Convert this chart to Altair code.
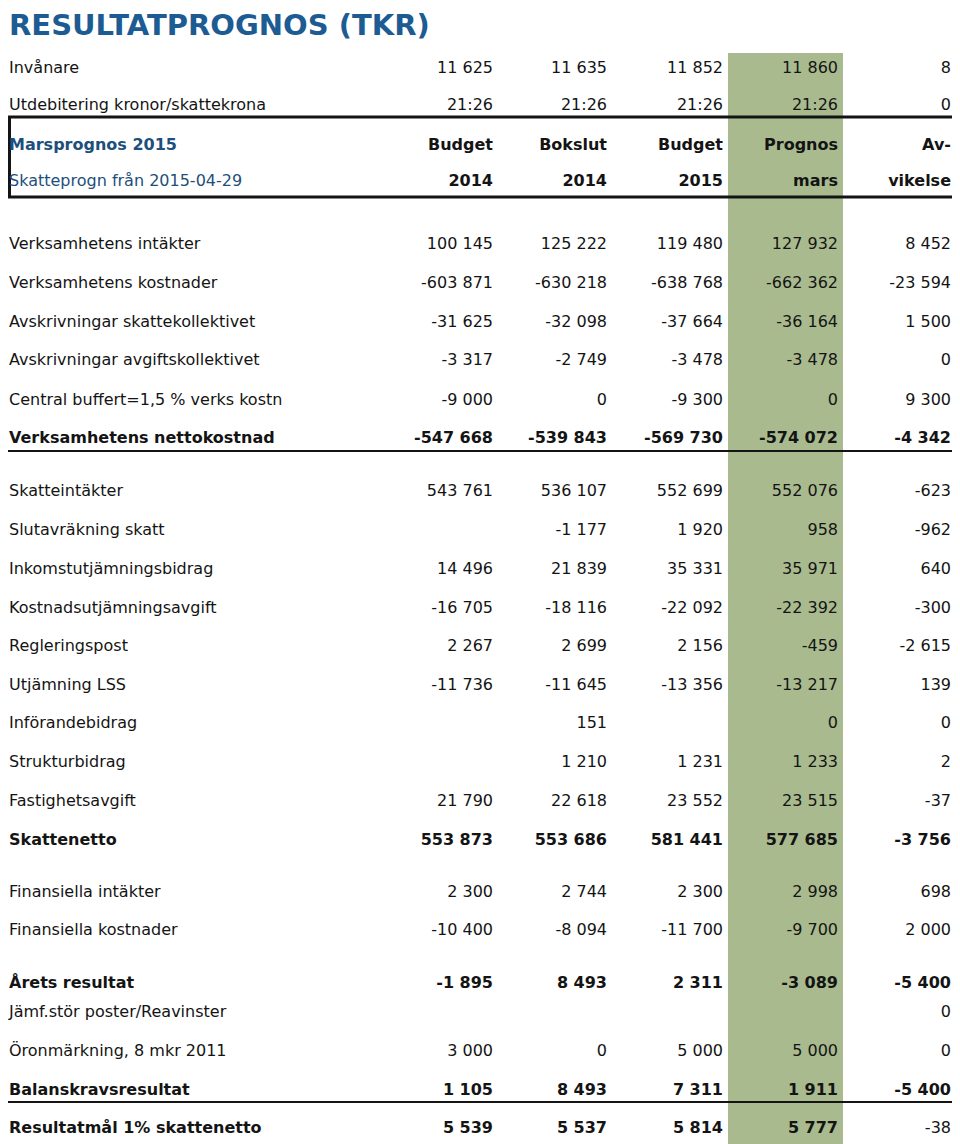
import altair as alt
import pandas as pd

# ---------------- data ----------------
title = "RESULTATPROGNOS (TKR)"

labels = [
    "Invånare", "Utdebitering kronor/skattekrona",
    "Marsprognos 2015", "Skatteprogn från 2015-04-29",
    "Verksamhetens intäkter", "Verksamhetens kostnader",
    "Avskrivningar skattekollektivet", "Avskrivningar avgiftskollektivet",
    "Central buffert=1,5 % verks kostn", "Verksamhetens nettokostnad",
    "Skatteintäkter", "Slutavräkning skatt", "Inkomstutjämningsbidrag",
    "Kostnadsutjämningsavgift", "Regleringspost", "Utjämning LSS",
    "Införandebidrag", "Strukturbidrag", "Fastighetsavgift", "Skattenetto",
    "Finansiella intäkter", "Finansiella kostnader", "Årets resultat",
    "Jämf.stör poster/Reavinster", "Öronmärkning, 8 mkr 2011",
    "Balanskravsresultat", "Resultatmål 1% skattenetto",
]

budget_2014 = [11625, "21:26", "Budget", "2014", 100145, -603871, -31625, -3317, -9000, -547668,
               543761, None, 14496, -16705, 2267, -11736, None, None, 21790, 553873,
               2300, -10400, -1895, None, 3000, 1105, 5539]
bokslut_2014 = [11635, "21:26", "Bokslut", "2014", 125222, -630218, -32098, -2749, 0, -539843,
                536107, -1177, 21839, -18116, 2699, -11645, 151, 1210, 22618, 553686,
                2744, -8094, 8493, None, 0, 8493, 5537]
budget_2015 = [11852, "21:26", "Budget", "2015", 119480, -638768, -37664, -3478, -9300, -569730,
               552699, 1920, 35331, -22092, 2156, -13356, None, 1231, 23552, 581441,
               2300, -11700, 2311, None, 5000, 7311, 5814]
prognos_mars = [11860, "21:26", "Prognos", "mars", 127932, -662362, -36164, -3478, 0, -574072,
                552076, 958, 35971, -22392, -459, -13217, 0, 1233, 23515, 577685,
                2998, -9700, -3089, None, 5000, 1911, 5777]
avvikelse = [8, 0, "Av-", "vikelse", 8452, -23594, 1500, 0, 9300, -4342,
             -623, -962, 640, -300, -2615, 139, 0, 2, -37, -3756,
             698, 2000, -5400, 0, 0, -5400, -38]

# ---------------- layout / style ----------------
row_y = [68, 105, 145, 181, 244, 283, 322, 360, 400, 438,
         491, 530, 569, 608, 646, 685, 723, 762, 801, 840,
         892, 930, 983, 1012, 1051, 1090, 1128]
bold_rows = {"Marsprognos 2015", "Verksamhetens nettokostnad", "Skattenetto",
             "Årets resultat", "Balanskravsresultat", "Resultatmål 1% skattenetto"}
header_rows = {"Marsprognos 2015", "Skatteprogn från 2015-04-29"}
col_right_x = [493, 607, 723, 838, 951]
label_x = 9

BLUE_TITLE = "#1d5b93"
BLUE = "#1e4f7c"
BLACK = "#141414"
GREEN = "#a9bb8e"
FONT = "DejaVu Sans"
FS = 16


def fmt(v):
    if v is None:
        return ""
    if isinstance(v, str):
        return v
    s = f"{abs(v):,}".replace(",", " ")
    return ("-" if v < 0 else "") + s


cells = []
columns = [budget_2014, bokslut_2014, budget_2015, prognos_mars, avvikelse]
for i, lab in enumerate(labels):
    y = row_y[i]
    if lab in header_rows:
        style = "blue_bold" if lab in bold_rows else "blue"
    else:
        style = "bold" if lab in bold_rows else "normal"
    cells.append({"x": label_x, "y": y, "text": lab, "style": style, "align": "left"})
    for c, col in enumerate(columns):
        t = fmt(col[i])
        if t == "":
            continue
        if lab in header_rows or lab in bold_rows:
            st = "bold"
        else:
            st = "normal"
        if lab == "Resultatmål 1% skattenetto" and c == 4:
            st = "normal"
        cells.append({"x": col_right_x[c], "y": y, "text": t, "style": st, "align": "right"})

df = pd.DataFrame(cells)

# plot area covers page pixels 8..952 (x) and 8..1144 (y)
W, H = 944, 1136
xs = alt.Scale(domain=[8, 8 + W], nice=False, zero=False)
ys = alt.Scale(domain=[8, 8 + H], nice=False, zero=False, reverse=True)


def X(f="x"):
    return alt.X(f"{f}:Q", scale=xs, axis=None)


def Y(f="y"):
    return alt.Y(f"{f}:Q", scale=ys, axis=None)


band = pd.DataFrame([{"x": 728, "x2": 843, "y": 53, "y2": 1144}])
green = alt.Chart(band).mark_rect(color=GREEN).encode(
    x=X(), x2="x2:Q", y=Y(), y2="y2:Q")

hlines = pd.DataFrame([
    {"x": 8, "x2": 952, "y": 117, "w": 3},
    {"x": 8, "x2": 952, "y": 197, "w": 3},
    {"x": 8, "x2": 952, "y": 451, "w": 2},
    {"x": 8, "x2": 952, "y": 1102, "w": 2},
])
hrules = []
for w in sorted(hlines["w"].unique()):
    hrules.append(alt.Chart(hlines[hlines["w"] == w]).mark_rule(color=BLACK, strokeWidth=float(w)).encode(
        x=X(), x2="x2:Q", y=Y()))
vline = pd.DataFrame([{"x": 9.5, "y": 116, "y2": 198}])
vrule = alt.Chart(vline).mark_rule(color=BLACK, strokeWidth=3).encode(x=X(), y=Y(), y2="y2:Q")

layers = [green] + hrules + [vrule]

style_props = {
    "normal": dict(color=BLACK, fontWeight="normal"),
    "bold": dict(color=BLACK, fontWeight="bold"),
    "blue": dict(color=BLUE, fontWeight="normal"),
    "blue_bold": dict(color=BLUE, fontWeight="bold"),
}
for st, props in style_props.items():
    for al in ["left", "right"]:
        sub = df[(df["style"] == st) & (df["align"] == al)]
        if len(sub) == 0:
            continue
        layers.append(alt.Chart(sub).mark_text(
            align=al, baseline="middle", font=FONT, fontSize=FS, **props
        ).encode(x=X(), y=Y(), text="text:N"))

title_df = pd.DataFrame([{"x": 9, "y": 35, "text": title}])
layers.append(alt.Chart(title_df).mark_text(
    align="left", baseline="alphabetic", font=FONT, fontSize=29, fontWeight="bold", color=BLUE_TITLE
).encode(x=X(), y=Y(), text="text:N"))

chart = alt.layer(*layers).properties(
    width=W, height=H, autosize="none", padding=0
).configure_view(stroke=None)

chart.save("out.html", embed_options={"renderer": "svg", "actions": False})
